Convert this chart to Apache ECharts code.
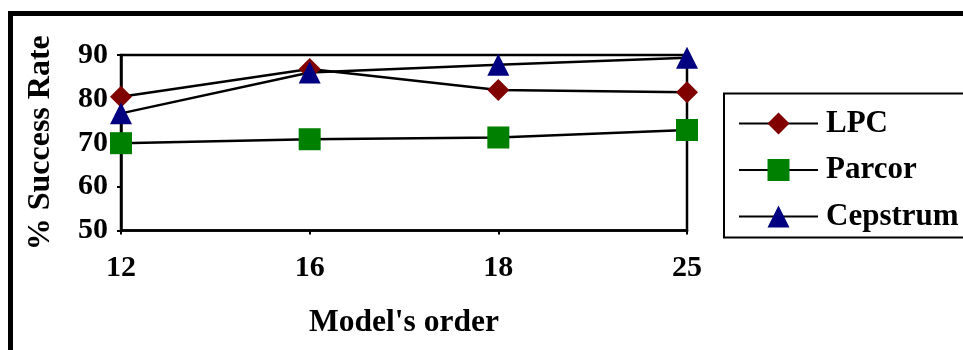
<!DOCTYPE html>
<html>
<head>
<meta charset="utf-8">
<script src="https://cdn.jsdelivr.net/npm/echarts@6/dist/echarts.min.js"></script>
<style>
  html, body { margin: 0; padding: 0; background: #fff; }
  #chart { width: 963px; height: 350px; }
</style>
</head>
<body>
<div id="chart"></div>
<script>
// Model orders on the x axis and success rates (%) for each feature type
const modelOrders = ['12', '16', '18', '25'];
const lpcRates = [80.5, 86.8, 82.0, 81.5];
const parcorRates = [69.9, 70.8, 71.2, 72.9];
const cepstrumRates = [76.7, 86.0, 87.8, 89.4];
const seriesNames = ['LPC', 'Parcor', 'Cepstrum'];

const serif = '"Liberation Serif", "Times New Roman", serif';

const chart = echarts.init(document.getElementById('chart'), null, { renderer: 'canvas' });

function lineSeries(name, values, symbol, color) {
  return {
    name: name,
    type: 'line',
    data: values,
    symbol: symbol,
    symbolSize: 22,
    showAllSymbol: true,
    lineStyle: { color: '#000', width: 2.5 },
    itemStyle: { color: color, borderWidth: 0 },
    emphasis: { disabled: true },
    animation: false
  };
}

chart.setOption({
  animation: false,
  backgroundColor: '#fff',
  grid: {
    left: 121, right: 276, top: 55, bottom: 119.5,
    show: true, borderColor: '#000', borderWidth: 2.5,
    backgroundColor: 'transparent'
  },
  graphic: [
    // outer frame around the whole figure
    { type: 'rect', shape: { x: 10.5, y: 13.5, width: 1000, height: 400 },
      style: { fill: 'none', stroke: '#000', lineWidth: 5 }, z: 100, silent: true },
    // legend box
    { type: 'rect', shape: { x: 724, y: 93.5, width: 300, height: 144 },
      style: { fill: 'none', stroke: '#000', lineWidth: 2 }, z: 100, silent: true }
  ],
  legend: {
    orient: 'vertical',
    left: 738,
    top: 108,
    padding: 0,
    itemWidth: 79,
    itemHeight: 27.5,
    itemGap: 15.5,
    data: seriesNames,
    textStyle: { fontFamily: serif, fontWeight: 'bold', fontSize: 31, lineHeight: 27, color: '#000', padding: [0, 0, 0, 3] }
  },
  xAxis: {
    type: 'category',
    data: modelOrders,
    boundaryGap: false,
    name: "Model's order",
    nameLocation: 'middle',
    nameGap: 76,
    nameTextStyle: { fontFamily: serif, fontWeight: 'bold', fontSize: 31.5, color: '#000' },
    axisLine: { lineStyle: { color: '#000', width: 2.5 } },
    axisTick: { show: true, length: 4, lineStyle: { color: '#000', width: 2 } },
    axisLabel: { fontFamily: serif, fontWeight: 'bold', fontSize: 30, color: '#000', margin: 23 },
    splitLine: { show: false }
  },
  yAxis: {
    type: 'value',
    min: 50, max: 90, interval: 10,
    name: '% Success Rate',
    nameLocation: 'middle',
    nameGap: 64,
    nameTextStyle: { fontFamily: serif, fontWeight: 'bold', fontSize: 32, color: '#000' },
    axisLine: { show: true, lineStyle: { color: '#000', width: 2.5 } },
    axisTick: { show: true, length: 4, lineStyle: { color: '#000', width: 2 } },
    axisLabel: { fontFamily: serif, fontWeight: 'bold', fontSize: 30, color: '#000', margin: 13 },
    splitLine: { show: false }
  },
  series: [
    lineSeries('LPC', lpcRates, 'diamond', '#800000'),
    lineSeries('Parcor', parcorRates, 'rect', '#008000'),
    lineSeries('Cepstrum', cepstrumRates, 'triangle', '#000080')
  ]
});
</script>
</body>
</html>
